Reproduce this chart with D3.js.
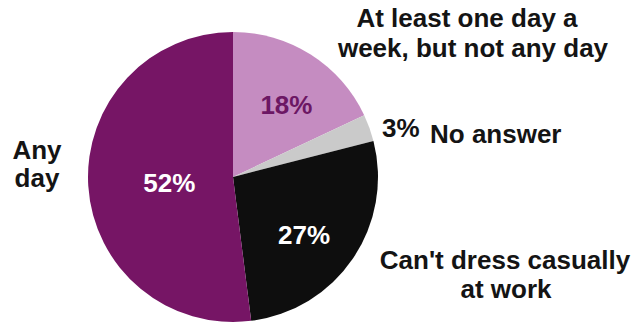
<!DOCTYPE html>
<html>
<head>
<meta charset="utf-8">
<script src="https://cdn.jsdelivr.net/npm/d3@7"></script>
<style>
  html, body { margin: 0; padding: 0; background: #ffffff; }
  svg { display: block; }
  text { font-family: "Liberation Sans", Arial, Helvetica, sans-serif; font-weight: bold; }
</style>
</head>
<body>
<svg id="chart" width="637" height="324"></svg>
<script>
// Survey answers, clockwise from twelve o'clock
const categories = [
  "At least one day a week, but not any day",
  "No answer",
  "Can't dress casually at work",
  "Any day"
];
const shares = [18, 3, 27, 52];
const sliceColors = ["#c58cc1", "#cacaca", "#0e0e0e", "#761565"];
const pctColors = ["#6c1764", "#111111", "#ffffff", "#ffffff"];

const svg = d3.select("#chart");
const cx = 233, cy = 177, radius = 145;

const pie = d3.pie().sort(null).value(d => d.value).startAngle(0).endAngle(2 * Math.PI);
const arcs = pie(categories.map((c, i) => ({ name: c, value: shares[i], i })));

const arc = d3.arc().innerRadius(0).outerRadius(radius);

const g = svg.append("g").attr("transform", `translate(${cx},${cy})`);

g.selectAll("path.slice")
  .data(arcs)
  .join("path")
  .attr("class", "slice")
  .attr("d", arc)
  .attr("fill", d => sliceColors[d.data.i]);

// Percentages inside the larger slices
const labelRadius = [90, 0, 92, 64];
const labelShift = [0.07, 0, 0.09, -0.03]; // small angular nudges, radians
g.selectAll("text.pct")
  .data(arcs.filter(d => d.data.i !== 1))
  .join("text")
  .attr("class", "pct")
  .attr("text-anchor", "middle")
  .attr("font-size", 26)
  .attr("fill", d => pctColors[d.data.i])
  .attr("x", d => {
    const a = (d.startAngle + d.endAngle) / 2 + labelShift[d.data.i];
    return labelRadius[d.data.i] * Math.sin(a);
  })
  .attr("y", d => {
    const a = (d.startAngle + d.endAngle) / 2 + labelShift[d.data.i];
    return -labelRadius[d.data.i] * Math.cos(a) + 9;
  })
  .text(d => d.data.value + "%");

// Category names around the pie
const fs = 26;
function label(lines, anchor) {
  lines.forEach(l => {
    svg.append("text")
      .attr("x", l.x).attr("y", l.y)
      .attr("text-anchor", anchor)
      .attr("font-size", fs)
      .attr("fill", "#141414")
      .text(l.t);
  });
}

label([
  { t: "At least one day a", x: 467, y: 27 },
  { t: "week, but not any day", x: 473, y: 57 }
], "middle");

svg.append("text")
  .attr("x", 382).attr("y", 137)
  .attr("font-size", fs).attr("fill", "#141414")
  .text(shares[1] + "%");
label([{ t: "No answer", x: 430, y: 143 }], "start");

label([
  { t: "Can't dress casually", x: 505, y: 269 },
  { t: "at work", x: 506, y: 298 }
], "middle");

label([
  { t: "Any", x: 37, y: 159 },
  { t: "day", x: 37, y: 187 }
], "middle");
</script>
</body>
</html>
